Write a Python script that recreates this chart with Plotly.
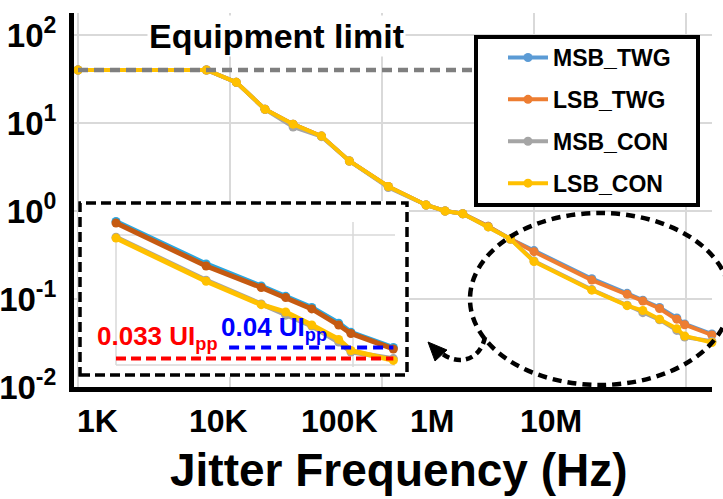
import math
import plotly.graph_objects as go

# ---- data -------------------------------------------------------------
freq_hz = [1e3, 7e3, 11e3, 17e3, 26e3, 40e3, 61e3, 110e3, 195e3, 260e3, 340e3,
           500e3, 700e3, 1e6, 2.4e6, 4.1e6, 5.2e6, 6.7e6, 8.7e6, 9.8e6, 14.8e6]

msb_twg = [40, 40, 29, 14.3, 9.7, 7.1, 3.7, 1.9, 1.17, 1.0, 0.93,
           0.67, 0.48, 0.355, 0.170, 0.116, 0.097, 0.080, 0.061, 0.052, 0.040]
lsb_twg = [40, 40, 29, 14.3, 9.7, 7.1, 3.7, 1.9, 1.17, 1.0, 0.93,
           0.67, 0.48, 0.345, 0.164, 0.113, 0.095, 0.078, 0.059, 0.051, 0.039]
msb_con = [40, 40, 29, 14.3, 9.0, 7.0, 3.7, 1.85, 1.17, 1.0, 0.93,
           0.66, 0.48, 0.270, 0.128, 0.085, 0.070, 0.058, 0.044, 0.037, 0.033]
lsb_con = [40, 40, 29, 14.3, 9.7, 7.1, 3.7, 1.9, 1.17, 1.0, 0.93,
           0.66, 0.48, 0.266, 0.126, 0.084, 0.074, 0.059, 0.046, 0.038, 0.032]

series_names = ["MSB_TWG", "LSB_TWG", "MSB_CON", "LSB_CON"]
series_values = [msb_twg, lsb_twg, msb_con, lsb_con]

equipment_limit = 40
limit_span_hz = [1e3, 1e6]

zoom_start_index = 13          # 1 MHz onwards is magnified in the inset
twg_floor_ui = 0.04
con_floor_ui = 0.033
twg_floor_span_hz = [3e6, 14.8e6]
con_floor_span_hz = [1e6, 14.8e6]

x_tick_labels = ["1K", "10K", "100K", "1M", "10M"]
y_tick_vals = [0.01, 0.1, 1, 10, 100]
y_tick_text = ["10<sup>-2</sup>", "10<sup>-1</sup>", "10<sup>0</sup>",
               "10<sup>1</sup>", "10<sup>2</sup>"]

# ---- styling ----------------------------------------------------------
FONT = "Liberation Sans, Arial, sans-serif"
main_colors = ["#5B9BD5", "#ED7D31", "#A5A5A5", "#FFC000"]
inset_colors = ["#2AA7E0", "#C55A11", "#A5A5A5", "#FFC000"]
GRID = "#D9D9D9"

W, H = 723, 499
ML, MR, MT, MB = 74, 11, 13, 112
PW, PH = W - ML - MR, H - MT - MB
X_PER_DEC, Y_PER_DEC = 152, 88


def px(x):
    """canvas x pixel -> paper fraction"""
    return (x - ML) / PW


def py(y):
    """canvas y pixel -> paper fraction"""
    return (H - MB - y) / PH


x_lo = 3 - 4 / X_PER_DEC
x_range = [x_lo, x_lo + PW / X_PER_DEC]
y_range = [-2, -2 + PH / Y_PER_DEC]

# inset subplot geometry
IN_L, IN_R, IN_T, IN_B = 78, 409, 201, 377
IX_PER_DEC, IX_1M = 237, 116
IY_PER_DEC, IY_REF = 133, 347.5
x2_range = [6 - (IX_1M - IN_L) / IX_PER_DEC, 6 + (IN_R - IX_1M) / IX_PER_DEC]
y2_range = [math.log10(twg_floor_ui) - (IN_B - IY_REF) / IY_PER_DEC,
            math.log10(twg_floor_ui) + (IY_REF - IN_T) / IY_PER_DEC]


def ix(x):
    return 10 ** (x2_range[0] + (x - IN_L) / IX_PER_DEC)


def iy(y):
    return 10 ** (y2_range[0] + (IN_B - y) / IY_PER_DEC)


fig = go.Figure()

# main curves
for name, vals, col in zip(series_names, series_values, main_colors):
    fig.add_trace(go.Scatter(
        x=freq_hz, y=vals, name=name, mode="lines+markers",
        line=dict(color=col, width=4), marker=dict(color=col, size=9),
        legendgroup=name, cliponaxis=False, xaxis="x", yaxis="y"))

# equipment limit
fig.add_trace(go.Scatter(
    x=limit_span_hz, y=[equipment_limit] * 2, mode="lines", showlegend=False,
    line=dict(color="#7F7F7F", width=4.5, dash="10px,6px"), xaxis="x", yaxis="y"))

# inset: magnified high-frequency tail
for name, vals, col in zip(series_names, series_values, inset_colors):
    fig.add_trace(go.Scatter(
        x=freq_hz[zoom_start_index:], y=vals[zoom_start_index:], mode="lines+markers",
        line=dict(color=col, width=5), marker=dict(color=col, size=9),
        showlegend=False, cliponaxis=False, xaxis="x2", yaxis="y2"))

fig.add_trace(go.Scatter(
    x=twg_floor_span_hz, y=[twg_floor_ui] * 2, mode="lines", showlegend=False,
    line=dict(color="#0000FF", width=4, dash="10px,6px"), xaxis="x2", yaxis="y2"))
fig.add_trace(go.Scatter(
    x=con_floor_span_hz, y=[con_floor_ui] * 2, mode="lines", showlegend=False,
    line=dict(color="#FF0000", width=4, dash="10px,5px"), xaxis="x2", yaxis="y2"))

shapes = [
    # inset frame (white, covers the main plot beneath it)
    dict(type="rect", xref="x2", yref="y2", x0=ix(80), x1=ix(407), y0=iy(375), y1=iy(203),
         fillcolor="white", line=dict(color="black", width=3.5, dash="10px,5px"), layer="below"),
    # inset grid
    dict(type="line", xref="x2", yref="y2", x0=ix(116), x1=ix(395), y0=iy(235), y1=iy(235),
         line=dict(color=GRID, width=1.5), layer="below"),
    dict(type="line", xref="x2", yref="y2", x0=ix(116), x1=ix(395), y0=iy(365), y1=iy(365),
         line=dict(color=GRID, width=1.5), layer="below"),
    dict(type="line", xref="x2", yref="y2", x0=1e6, x1=1e6, y0=iy(235), y1=iy(365),
         line=dict(color=GRID, width=1.5), layer="below"),
    dict(type="line", xref="x2", yref="y2", x0=1e7, x1=1e7, y0=iy(222), y1=iy(367),
         line=dict(color=GRID, width=1.5), layer="below"),
    # legend frame
    dict(type="rect", xref="paper", yref="paper", x0=px(476), x1=px(698), y0=py(205), y1=py(37),
         fillcolor="white", line=dict(color="black", width=4), layer="above"),
    # highlight ellipse
    dict(type="circle", xref="paper", yref="paper", x0=px(470), x1=px(730), y0=py(385), y1=py(213),
         line=dict(color="black", width=4.5, dash="9px,6px"), layer="above"),
    # curved pointer toward the inset
    dict(type="path", xref="paper", yref="paper",
         path=(f"M {px(485)},{py(337)} C {px(480)},{py(362)} {px(456)},{py(366)} "
               f"{px(440)},{py(352)}"),
         line=dict(color="black", width=4.5, dash="7px,5px"), layer="above"),
    dict(type="path", xref="paper", yref="paper",
         path=f"M {px(428)},{py(342)} L {px(435)},{py(361)} L {px(447)},{py(350)} Z",
         fillcolor="black", line=dict(color="black", width=1), layer="above"),
]

annotations = []
for lab, cx in zip(x_tick_labels, [97, 218, 339, 432, 551]):
    annotations.append(dict(text=lab, xref="paper", yref="paper", x=px(cx), y=py(420.5),
                            showarrow=False, xanchor="center", yanchor="middle",
                            font=dict(family=FONT, size=32, color="black", weight="bold")))
annotations += [
    dict(text="Jitter Frequency (Hz)", xref="paper", yref="paper", x=px(398.5), y=py(470),
         showarrow=False, xanchor="center", yanchor="middle",
         font=dict(family=FONT, size=46, color="black", weight="bold")),
    dict(text="Equipment limit", xref="paper", yref="paper", x=px(276.5), y=py(36.4),
         showarrow=False, xanchor="center", yanchor="middle", bgcolor="white",
         font=dict(family=FONT, size=34, color="black", weight="bold")),
    dict(text=f"{con_floor_ui} UI<sub>pp</sub>", xref="paper", yref="paper", x=px(95), y=py(337),
         showarrow=False, xanchor="left", yanchor="middle",
         font=dict(family=FONT, size=26, color="#FF0000", weight="bold")),
    dict(text=f"{twg_floor_ui} UI<sub>pp</sub>", xref="paper", yref="paper", x=px(219), y=py(328),
         showarrow=False, xanchor="left", yanchor="middle",
         font=dict(family=FONT, size=26, color="#0000FF", weight="bold")),
]

fig.update_layout(
    width=W, height=H,
    margin=dict(l=ML, r=MR, t=MT, b=MB, pad=0, autoexpand=False),
    paper_bgcolor="white", plot_bgcolor="white",
    font=dict(family=FONT, color="black"),
    xaxis=dict(type="log", range=x_range, domain=[0, 1], dtick=1, automargin=False,
               showgrid=True, gridcolor=GRID, gridwidth=1.5,
               showticklabels=False, ticks="", zeroline=False,
               showline=True, linecolor="black", linewidth=5),
    yaxis=dict(type="log", range=y_range, domain=[0, 1], automargin=False,
               tickvals=y_tick_vals, ticktext=y_tick_text, ticks="",
               tickfont=dict(family=FONT, size=33, color="black", weight="bold"),
               ticklabelstandoff=6,
               showgrid=True, gridcolor=GRID, gridwidth=1.5, zeroline=False,
               showline=True, linecolor="black", linewidth=5),
    xaxis2=dict(type="log", range=x2_range, domain=[px(IN_L), px(IN_R)], anchor="y2",
                automargin=False,
                showgrid=False, showticklabels=False, ticks="", zeroline=False, showline=False),
    yaxis2=dict(type="log", range=y2_range, domain=[py(IN_B), py(IN_T)], anchor="x2",
                automargin=False,
                showgrid=False, showticklabels=False, ticks="", zeroline=False, showline=False),
    legend=dict(x=px(503), y=py(36), xanchor="left", yanchor="top",
                bgcolor="rgba(0,0,0,0)", borderwidth=0, itemwidth=40,
                traceorder="grouped", tracegroupgap=9,
                font=dict(family=FONT, size=23, color="black", weight="bold")),
    shapes=shapes,
    annotations=annotations,
)

fig.write_html("out.html")
